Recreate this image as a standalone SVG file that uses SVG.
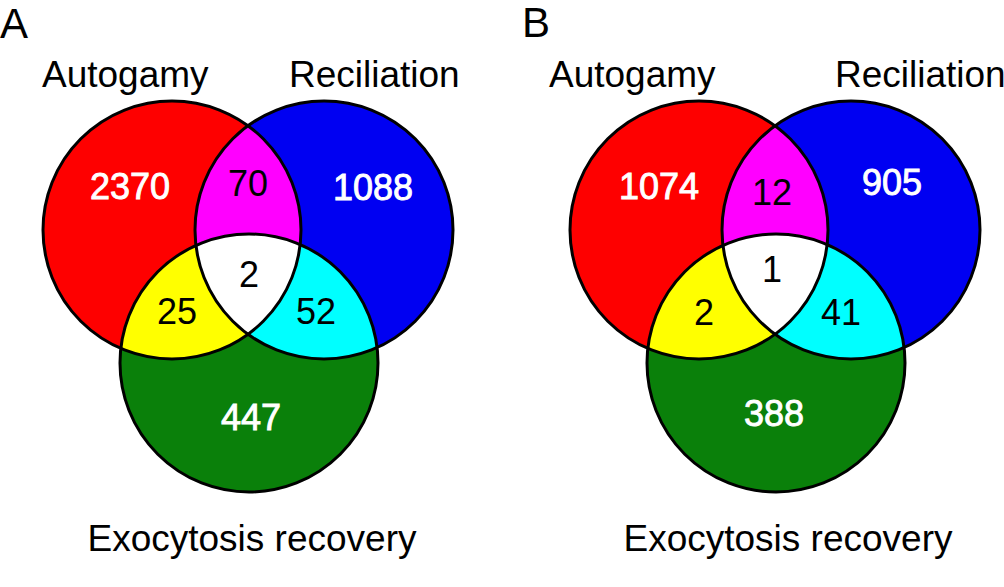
<svg xmlns="http://www.w3.org/2000/svg" xmlns:xlink="http://www.w3.org/1999/xlink" width="1004" height="587" viewBox="0 0 1004 587">
<style>
.lbl{font-family:"Liberation Sans",Arial,sans-serif;font-size:37px;fill:#000}
.pl{font-family:"Liberation Sans",Arial,sans-serif;font-size:42px;fill:#000}
.num{font-family:"Liberation Sans",Arial,sans-serif;font-size:36px;text-anchor:middle}
.w{fill:#fff;stroke:#fff;stroke-width:0.9px}
.k{fill:#000}
.ol{fill:none;stroke:#000;stroke-width:3}
</style>
<defs>
<circle id="cR" cx="172" cy="230" r="129"/>
<circle id="cB" cx="324" cy="230" r="129"/>
<circle id="cG" cx="249" cy="363" r="129"/>
<clipPath id="clipR"><use xlink:href="#cR"/></clipPath>
<clipPath id="clipB"><use xlink:href="#cB"/></clipPath>
<clipPath id="clipRB" clip-path="url(#clipR)"><use xlink:href="#cB"/></clipPath>
</defs>
<rect width="1004" height="587" fill="#fff"/>

<g id="panelA">
<text class="pl" x="0" y="38">A</text>
<g id="A-autogamy"><use xlink:href="#cR" fill="#fe0000"/></g>
<g id="A-reciliation"><use xlink:href="#cB" fill="#0000f2"/></g>
<g id="A-exocytosis"><use xlink:href="#cG" fill="#0a800a"/></g>
<g id="A-AR"><use xlink:href="#cB" fill="#ff00ff" clip-path="url(#clipR)"/></g>
<g id="A-AE"><use xlink:href="#cG" fill="#ffff00" clip-path="url(#clipR)"/></g>
<g id="A-RE"><use xlink:href="#cG" fill="#00ffff" clip-path="url(#clipB)"/></g>
<g id="A-ARE"><use xlink:href="#cG" fill="#ffffff" clip-path="url(#clipRB)"/></g>
<use xlink:href="#cR" class="ol"/>
<use xlink:href="#cB" class="ol"/>
<use xlink:href="#cG" class="ol"/>
<text class="lbl" x="42" y="87">Autogamy</text>
<text class="lbl" x="289" y="87">Reciliation</text>
<text class="lbl" x="252" y="551" text-anchor="middle">Exocytosis recovery</text>
<text class="num w" x="130" y="199">2370</text>
<text class="num k" x="248" y="196">70</text>
<text class="num w" x="373" y="200">1088</text>
<text class="num k" x="249" y="287">2</text>
<text class="num k" x="177" y="324">25</text>
<text class="num k" x="316" y="324">52</text>
<text class="num w" x="251" y="430">447</text>
</g>

<g id="panelB">
<text class="pl" x="522" y="37">B</text>
<g transform="translate(527,0)">
<g id="B-autogamy"><use xlink:href="#cR" fill="#fe0000"/></g>
<g id="B-reciliation"><use xlink:href="#cB" fill="#0000f2"/></g>
<g id="B-exocytosis"><use xlink:href="#cG" fill="#0a800a"/></g>
<g id="B-AR"><use xlink:href="#cB" fill="#ff00ff" clip-path="url(#clipR)"/></g>
<g id="B-AE"><use xlink:href="#cG" fill="#ffff00" clip-path="url(#clipR)"/></g>
<g id="B-RE"><use xlink:href="#cG" fill="#00ffff" clip-path="url(#clipB)"/></g>
<g id="B-ARE"><use xlink:href="#cG" fill="#ffffff" clip-path="url(#clipRB)"/></g>
<use xlink:href="#cR" class="ol"/>
<use xlink:href="#cB" class="ol"/>
<use xlink:href="#cG" class="ol"/>
</g>
<text class="lbl" x="549" y="87">Autogamy</text>
<text class="lbl" x="835" y="87">Reciliation</text>
<text class="lbl" x="788" y="551" text-anchor="middle">Exocytosis recovery</text>
<text class="num w" x="659" y="199">1074</text>
<text class="num k" x="772" y="205">12</text>
<text class="num w" x="892" y="195">905</text>
<text class="num k" x="772" y="282">1</text>
<text class="num k" x="704" y="325">2</text>
<text class="num k" x="841" y="325">41</text>
<text class="num w" x="774" y="426">388</text>
</g>
</svg>
